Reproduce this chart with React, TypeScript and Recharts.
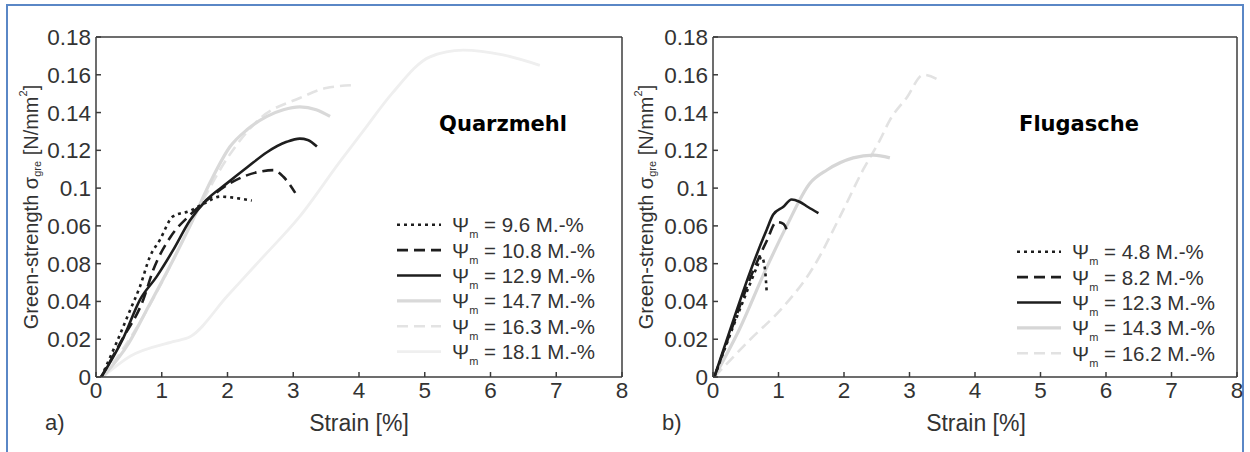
import React from 'react';
import { LineChart, Line, XAxis, YAxis, Legend } from 'recharts';

type Pt = [number, number];

// strain [%] vs. green strength [N/mm²] – Quarzmehl mixtures
const quarz96: Pt[] = [[0.08, 0], [0.31, 0.018], [0.52, 0.0355], [0.67, 0.048], [0.82, 0.0637], [0.97, 0.0725], [1.17, 0.085], [1.43, 0.088], [1.63, 0.0916], [1.89, 0.0955], [2.14, 0.0947], [2.37, 0.0934]];
const quarz108: Pt[] = [[0.08, 0], [0.4, 0.02], [0.72, 0.041], [0.87, 0.0566], [1.13, 0.074], [1.43, 0.0858], [1.7, 0.094], [2.04, 0.1026], [2.49, 0.1087], [2.7, 0.1095], [2.85, 0.106], [3.03, 0.0975]];
const quarz129: Pt[] = [[0.08, 0], [0.42, 0.021], [0.67, 0.041], [0.92, 0.053], [1.17, 0.067], [1.43, 0.083], [1.68, 0.0937], [1.99, 0.1025], [2.3, 0.111], [2.6, 0.119], [2.9, 0.1245], [3.1, 0.1262], [3.22, 0.1255], [3.36, 0.122]];
const quarz147: Pt[] = [[0.1, 0], [0.5, 0.018], [0.77, 0.0355], [1.1, 0.057], [1.43, 0.08], [1.75, 0.104], [2.04, 0.122], [2.3, 0.131], [2.6, 0.138], [2.85, 0.1415], [3.1, 0.143], [3.35, 0.1415], [3.56, 0.138]];
const quarz163: Pt[] = [[0.1, 0], [0.6, 0.025], [1.0, 0.05], [1.5, 0.085], [2.0, 0.116], [2.5, 0.137], [3.1, 0.1477], [3.5, 0.153], [3.96, 0.1546]];
const quarz181: Pt[] = [[0.1, 0], [0.52, 0.011], [1.17, 0.0187], [1.43, 0.0213], [2.0, 0.043], [2.5, 0.062], [3.1, 0.085], [3.71, 0.114], [4.06, 0.13], [4.5, 0.15], [5.08, 0.1695], [5.58, 0.173], [6.19, 0.1705], [6.75, 0.165]];

// strain [%] vs. green strength [N/mm²] – Flugasche mixtures
const flug48: Pt[] = [[0.02, 0], [0.3, 0.026], [0.55, 0.048], [0.68, 0.059], [0.74, 0.0637], [0.79, 0.058], [0.82, 0.045]];
const flug82: Pt[] = [[0.02, 0], [0.3, 0.027], [0.6, 0.055], [0.82, 0.072], [0.97, 0.082], [1.05, 0.0815], [1.1, 0.08], [1.13, 0.0775]];
const flug123: Pt[] = [[0.02, 0], [0.31, 0.03], [0.56, 0.055], [0.82, 0.078], [0.92, 0.086], [1.07, 0.09], [1.2, 0.094], [1.32, 0.0928], [1.45, 0.09], [1.61, 0.0867]];
const flug143: Pt[] = [[0.02, 0], [0.4, 0.025], [0.82, 0.058], [1.12, 0.0796], [1.48, 0.1026], [1.74, 0.1096], [2.14, 0.116], [2.45, 0.1175], [2.7, 0.116]];
const flug162: Pt[] = [[0.02, 0], [0.56, 0.0196], [1.07, 0.037], [1.53, 0.058], [1.94, 0.085], [2.29, 0.1096], [2.55, 0.1255], [2.7, 0.136], [2.96, 0.148], [3.21, 0.16], [3.46, 0.157]];

const quarzMoisture = ['9.6', '10.8', '12.9', '14.7', '16.3', '18.1'];
const flugMoisture = ['4.8', '8.2', '12.3', '14.3', '16.2'];

const strainTicks = [0, 1, 2, 3, 4, 5, 6, 7, 8];
const stressTicks = [0, 0.02, 0.04, 0.06, 0.08, 0.1, 0.12, 0.14, 0.16, 0.18];
const stressTickLabels = ['0', '0.02', '0.04', '0.08', '0.06', '0.1', '0.12', '0.14', '0.16', '0.18'];

type LineStyle = { stroke: string; width: number; dash?: string };

const quarzStyles: LineStyle[] = [
  { stroke: '#1e1e1e', width: 2.6, dash: '3 4' },
  { stroke: '#1e1e1e', width: 2.6, dash: '11 6' },
  { stroke: '#1e1e1e', width: 2.6 },
  { stroke: '#d9d9d9', width: 3.2 },
  { stroke: '#e3e3e3', width: 2.6, dash: '11 6' },
  { stroke: '#efefef', width: 2.8 },
];
const flugStyles: LineStyle[] = [
  { stroke: '#1e1e1e', width: 2.6, dash: '3 4' },
  { stroke: '#1e1e1e', width: 2.6, dash: '11 6' },
  { stroke: '#1e1e1e', width: 2.6 },
  { stroke: '#d6d6d6', width: 3.2 },
  { stroke: '#e2e2e2', width: 2.6, dash: '11 6' },
];

const FONT = '"Liberation Sans", Arial, Helvetica, sans-serif';
const AXIS = '#3c3c3c';
const TEXT = '#333';
const ROW = 25.4;

interface PanelProps {
  left: number;
  width: number;
  plotLeft: number;
  curves: Pt[][];
  moisture: string[];
  styles: LineStyle[];
  title: string;
  titleX: number;
  tag: string;
  yLabelX: number;
  xLabelX: number;
  legendX: number;
  legendY: number;
}

function MoistureLegend({ moisture, styles }: { moisture: string[]; styles: LineStyle[] }) {
  return (
    <svg width={240} height={moisture.length * ROW + 4} style={{ display: 'block', overflow: 'visible' }}>
      {moisture.map((m, i) => {
        const cy = ROW / 2 + i * ROW;
        const s = styles[i];
        return (
          <g key={m}>
            <line x1={0} x2={44} y1={cy} y2={cy} stroke={s.stroke} strokeWidth={s.width} strokeDasharray={s.dash} />
            <text x={55} y={cy + 7.5} fontFamily={FONT} fontSize={20.5} fill={TEXT}>
              <tspan>Ψ</tspan>
              <tspan fontSize={11} dy={6}>m</tspan>
              <tspan dy={-6}>{` = ${m} M.-%`}</tspan>
            </text>
          </g>
        );
      })}
    </svg>
  );
}

function Panel(p: PanelProps) {
  const series = p.curves.map((c) => c.map(([x, y]) => ({ x, y })));
  const order = series.map((_, i) => i).reverse();
  const tickStyle = { fill: TEXT, fontSize: 22.5, fontFamily: FONT };
  return (
    <div style={{ position: 'absolute', left: p.left, top: 0, width: p.width, height: 452 }}>
      <LineChart width={p.width} height={452} margin={{ top: 36, right: 7, bottom: 45, left: p.plotLeft - 50 }}>
        <XAxis xAxisId="b" dataKey="x" type="number" domain={[0, 8]} ticks={strainTicks} allowDataOverflow
          interval={0} height={30} tickSize={-5} tickMargin={10} stroke={AXIS} strokeWidth={1.5}
          fontSize={22.5} tick={tickStyle} />
        <XAxis xAxisId="t" orientation="top" dataKey="x" type="number" domain={[0, 8]} ticks={strainTicks} allowDataOverflow
          interval={0} height={1} tickSize={-5} tick={false} stroke={AXIS} strokeWidth={1.5} />
        <YAxis yAxisId="l" type="number" domain={[0, 0.18]} ticks={stressTicks} allowDataOverflow interval={0}
          width={50} tickSize={-5} tickMargin={10} stroke={AXIS} strokeWidth={1.5} fontSize={22.5} tick={tickStyle}
          tickFormatter={(_v: number, i: number) => stressTickLabels[i]} />
        <YAxis yAxisId="r" orientation="right" type="number" domain={[0, 0.18]} ticks={stressTicks} allowDataOverflow
          interval={0} width={1} tickSize={-5} tick={false} stroke={AXIS} strokeWidth={1.5} />
        {order.map((i) => (
          <Line key={p.moisture[i]} name={p.moisture[i]} xAxisId="b" yAxisId="l" data={series[i]} dataKey="y"
            type="monotone" dot={false} isAnimationActive={false} stroke={p.styles[i].stroke}
            strokeWidth={p.styles[i].width} strokeDasharray={p.styles[i].dash} />
        ))}
        <Legend layout="vertical" align="center" verticalAlign="middle"
          wrapperStyle={{ left: p.legendX, top: p.legendY, width: 240 }}
          content={() => <MoistureLegend moisture={p.moisture} styles={p.styles} />} />
      </LineChart>
      <svg width={p.width} height={452} style={{ position: 'absolute', left: 0, top: 0, pointerEvents: 'none' }}>
        <text transform={`translate(${p.yLabelX},207) rotate(-90)`} textAnchor="middle" fontFamily={FONT} fontSize={20} fill={TEXT} dominantBaseline="central">
          <tspan>Green-strength σ</tspan>
          <tspan fontSize={11} dy={6}>gre</tspan>
          <tspan dy={-6}> [N/mm</tspan>
          <tspan fontSize={11} dy={-8}>2</tspan>
          <tspan dy={8}>]</tspan>
        </text>
        <text x={p.xLabelX} y={431} textAnchor="middle" fontFamily={FONT} fontSize={23} fill={TEXT}>Strain [%]</text>
        <text x={p.plotLeft - 51} y={430} fontFamily={FONT} fontSize={22} fill={TEXT}>{p.tag}</text>
        <text x={p.titleX} y={131} textAnchor="middle" fontFamily='"DejaVu Sans", Verdana, sans-serif' fontWeight="bold" fontSize={21} fill="#000">{p.title}</text>
      </svg>
    </div>
  );
}

export default function App() {
  return (
    <div style={{ position: 'absolute', left: 0, top: 0, width: 1250, height: 452, overflow: 'hidden', background: '#fff' }}>
      <div style={{ position: 'absolute', left: 6, top: 4, width: 1234, height: 470, border: '2px solid #5a87c6' }} />
      <Panel left={0} width={630} plotLeft={96}
        curves={[quarz96, quarz108, quarz129, quarz147, quarz163, quarz181]}
        moisture={quarzMoisture} styles={quarzStyles}
        title="Quarzmehl" titleX={503} tag="a)" yLabelX={31} xLabelX={359}
        legendX={397} legendY={212} />
      <Panel left={630} width={615} plotLeft={83}
        curves={[flug48, flug82, flug123, flug143, flug162]}
        moisture={flugMoisture} styles={flugStyles}
        title="Flugasche" titleX={449} tag="b)" yLabelX={16} xLabelX={346}
        legendX={387} legendY={239} />
    </div>
  );
}
